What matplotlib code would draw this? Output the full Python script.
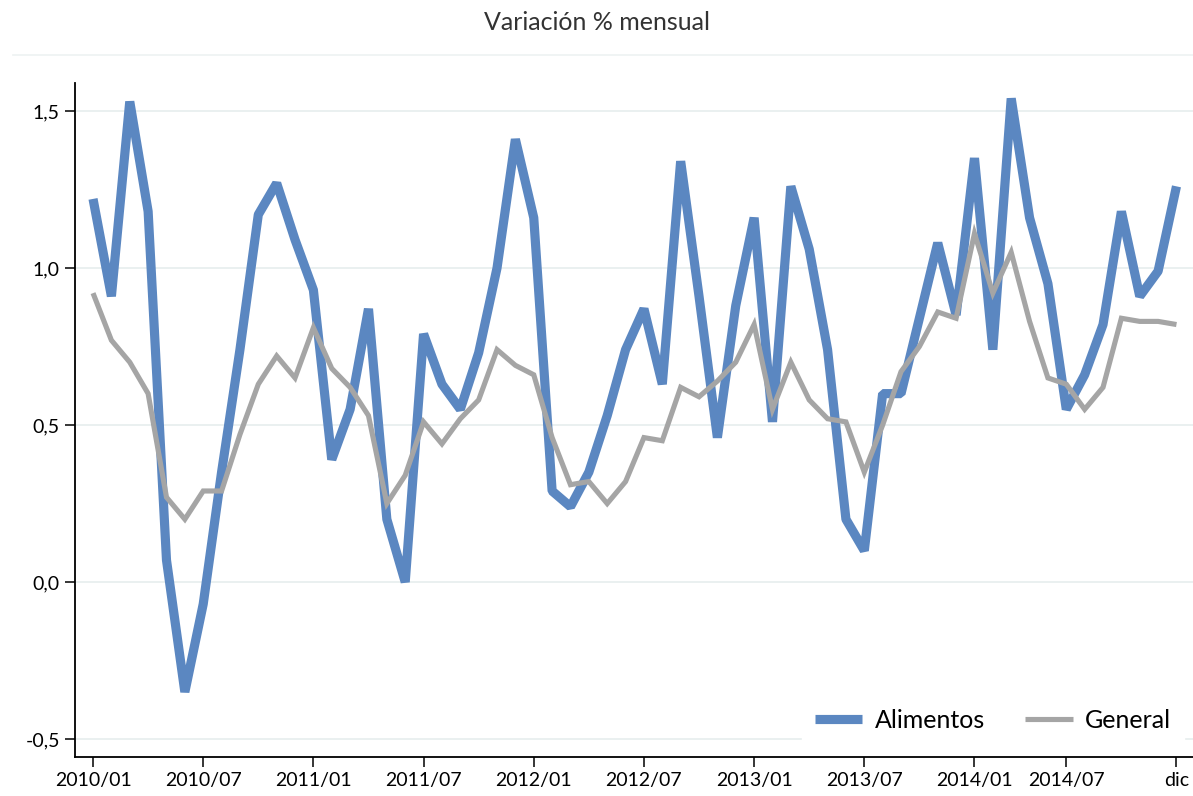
import matplotlib
matplotlib.use("Agg")
import matplotlib.pyplot as plt
from matplotlib.lines import Line2D

plt.rcParams['font.family'] = ['Lato', 'DejaVu Sans']

# Variacion % mensual, ene 2010 - dic 2014
alimentos = [1.22, 0.91, 1.53, 1.18, 0.07, -0.35, -0.07, 0.35, 0.74, 1.17,
             1.27, 1.09, 0.93, 0.39, 0.55, 0.87, 0.20, 0.00, 0.79, 0.63,
             0.55, 0.73, 1.00, 1.41, 1.16, 0.29, 0.24, 0.35, 0.53, 0.74,
             0.87, 0.63, 1.34, 0.91, 0.46, 0.88, 1.16, 0.51, 1.26, 1.06,
             0.74, 0.20, 0.10, 0.60, 0.60, 0.84, 1.08, 0.85, 1.35, 0.74,
             1.54, 1.16, 0.95, 0.55, 0.66, 0.82, 1.18, 0.91, 0.99, 1.26]
general = [0.92, 0.77, 0.70, 0.60, 0.27, 0.20, 0.29, 0.29, 0.47, 0.63,
           0.72, 0.65, 0.81, 0.68, 0.62, 0.53, 0.25, 0.34, 0.51, 0.44,
           0.52, 0.58, 0.74, 0.69, 0.66, 0.46, 0.31, 0.32, 0.25, 0.32,
           0.46, 0.45, 0.62, 0.59, 0.64, 0.70, 0.82, 0.55, 0.70, 0.58,
           0.52, 0.51, 0.35, 0.50, 0.67, 0.75, 0.86, 0.84, 1.11, 0.92,
           1.05, 0.83, 0.65, 0.63, 0.55, 0.62, 0.84, 0.83, 0.83, 0.82]

tick_pos = [0, 6, 12, 18, 24, 30, 36, 42, 48, 53, 59]
tick_labels = ['2010/01', '2010/07', '2011/01', '2011/07', '2012/01', '2012/07',
               '2013/01', '2013/07', '2014/01', '2014/07', 'dic']
y_ticks = [-0.5, 0.0, 0.5, 1.0, 1.5]
y_labels = ['-0,5', '0,0', '0,5', '1,0', '1,5']

fig = plt.figure(figsize=(11.93, 7.96), dpi=100)
ax = fig.add_axes([0.0629, 0.049, 0.9371, 0.8467])

x = list(range(len(alimentos)))
ax.plot(x, alimentos, color='#5b87c1', linewidth=6.6, label='Alimentos',
        solid_joinstyle='bevel', solid_capstyle='butt', zorder=3)
ax.plot(x, general, color='#a5a5a5', linewidth=3.7, label='General',
        solid_joinstyle='miter', solid_capstyle='butt', zorder=4)

ax.set_xlim(-0.98, 59.9)
ax.set_ylim(-0.557, 1.589)

ax.set_xticks(tick_pos)
ax.set_xticklabels(tick_labels, fontsize=14)
ax.set_yticks(y_ticks)
ax.set_yticklabels(y_labels, fontsize=14)
ax.tick_params(axis='both', direction='out', length=7.5, width=1.1, color='black')

ax.grid(True, axis='y', color='#e6eeee', linewidth=1.2)
ax.set_axisbelow(True)
for s in ['top', 'right']:
    ax.spines[s].set_visible(False)
for s in ['left', 'bottom']:
    ax.spines[s].set_linewidth(1.3)
    ax.spines[s].set_color('black')

leg = ax.legend(loc='center', bbox_to_anchor=(993 / 1193, 1 - 720 / 796),
                bbox_transform=fig.transFigure, ncol=2, fontsize=18,
                frameon=True, framealpha=1, edgecolor='white', fancybox=False,
                handlelength=1.9, columnspacing=1.6, handletextpad=0.5,
                borderpad=0.5)
leg.set_zorder(5)

# faint rule under the title
fig.add_artist(Line2D([13 / 1193, 1.0], [1 - 55 / 796, 1 - 55 / 796],
                      transform=fig.transFigure, color='#eef2f2', linewidth=1.2))
fig.text(0.5, 1 - 23 / 796, 'Variación % mensual', ha='center', va='center',
         fontsize=18, color='#333333')

fig.savefig('out.png', dpi=100)
